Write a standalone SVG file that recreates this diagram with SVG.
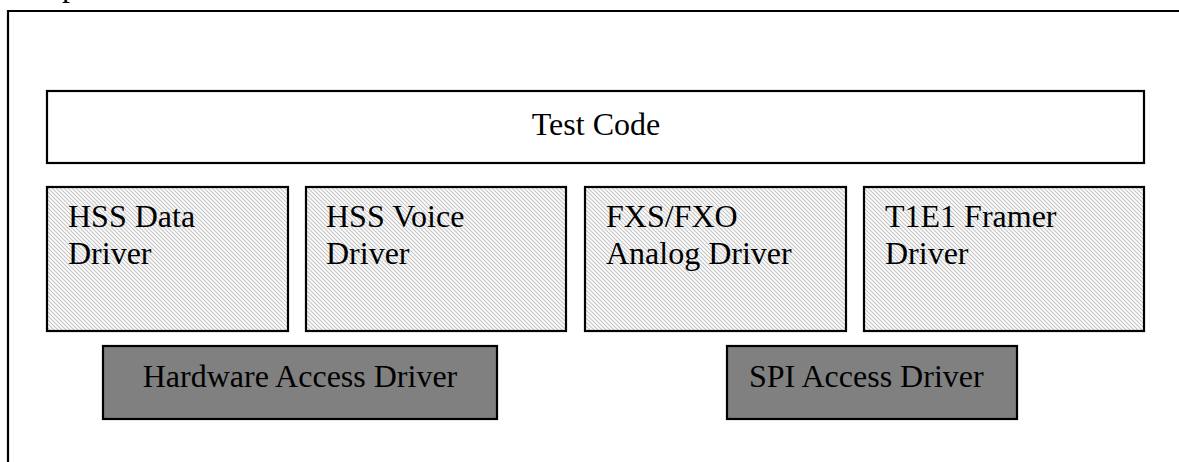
<svg xmlns="http://www.w3.org/2000/svg" width="1179" height="462" viewBox="0 0 1179 462">
  <style>
    .box { stroke: #000; stroke-width: 2.2; }
    .plain { fill: #fff; }
    .hatch { fill: url(#diag); }
    .dark { fill: #808080; }
    .lbl { font-family: "Liberation Serif", "Times New Roman", serif; font-size: 32px; fill: #000; }
  </style>
  <defs>
    <!-- light diagonal hatching used by the driver boxes -->
    <pattern id="diag" patternUnits="userSpaceOnUse" width="4" height="4">
      <rect width="4" height="4" fill="#fff"/>
      <path d="M-1,-1 L5,5 M-1,3 L1,5 M3,-1 L5,1" stroke="#c6c6c6" stroke-width="1.2"/>
    </pattern>
  </defs>

  <rect width="1179" height="462" fill="#fff"/>

  <!-- clipped caption glyph at the top edge -->
  <text class="lbl" x="62" y="-4">p</text>

  <!-- outer frame -->
  <path d="M8,470 L8,11 L1190,11" fill="none" stroke="#000" stroke-width="2.2"/>

  <g id="test-code">
    <rect class="box plain" x="47" y="91" width="1097" height="72"/>
    <text class="lbl" x="596" y="135" text-anchor="middle">Test Code</text>
  </g>

  <g id="hss-data-driver">
    <rect class="box hatch" x="47" y="187" width="241" height="144"/>
    <text class="lbl" x="68" y="227">HSS Data</text>
    <text class="lbl" x="68" y="263.5">Driver</text>
  </g>

  <g id="hss-voice-driver">
    <rect class="box hatch" x="306" y="187" width="260" height="144"/>
    <text class="lbl" x="326" y="227">HSS Voice</text>
    <text class="lbl" x="326" y="263.5">Driver</text>
  </g>

  <g id="fxs-fxo-analog-driver">
    <rect class="box hatch" x="585" y="187" width="261" height="144"/>
    <text class="lbl" x="606" y="227">FXS/FXO</text>
    <text class="lbl" x="606" y="263.5">Analog Driver</text>
  </g>

  <g id="t1e1-framer-driver">
    <rect class="box hatch" x="864" y="187" width="280" height="144"/>
    <text class="lbl" x="885" y="227">T1E1 Framer</text>
    <text class="lbl" x="885" y="263.5">Driver</text>
  </g>

  <g id="hardware-access-driver">
    <rect class="box dark" x="103" y="346" width="394" height="73"/>
    <text class="lbl" x="300" y="387" text-anchor="middle">Hardware Access Driver</text>
  </g>

  <g id="spi-access-driver">
    <rect class="box dark" x="727" y="346" width="290" height="73"/>
    <text class="lbl" x="749" y="387">SPI Access Driver</text>
  </g>

  <g id="connectors"></g>
</svg>
